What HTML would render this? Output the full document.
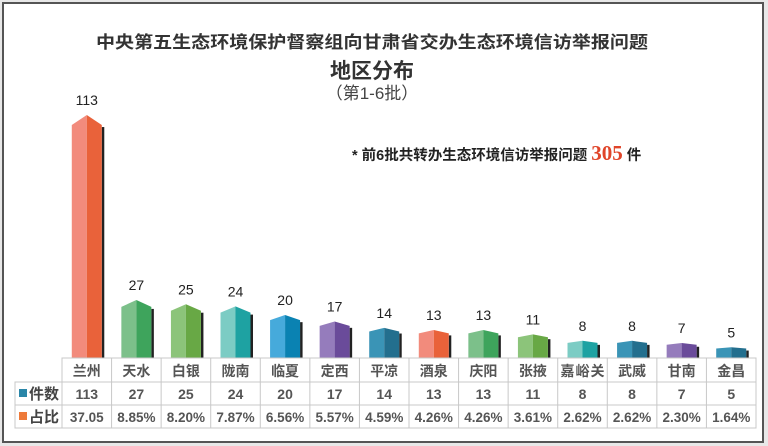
<!DOCTYPE html>
<html><head><meta charset="utf-8"><style>
html,body{margin:0;padding:0;background:#fff;}
svg{display:block;font-family:"Liberation Sans","Noto Sans CJK SC",sans-serif;}
</style></head><body>
<svg width="768" height="446" viewBox="0 0 768 446">
<rect x="0" y="0" width="768" height="446" fill="#e8e8e8"/>
<rect x="3" y="3" width="760" height="439" fill="#fff" stroke="#555" stroke-width="2"/>
<text x="372" y="48" text-anchor="middle" font-size="17" font-weight="bold" fill="#333" textLength="552" lengthAdjust="spacingAndGlyphs">中央第五生态环境保护督察组向甘肃省交办生态环境信访举报问题</text>
<text x="372" y="78" text-anchor="middle" font-size="21" font-weight="bold" fill="#333">地区分布</text>
<text x="372" y="99" text-anchor="middle" font-size="17" fill="#444">（第1-6批）</text>
<text x="352" y="160" font-size="14.5" font-weight="bold" fill="#222">*  前6批共转办生态环境信访举报问题 <tspan font-family="Liberation Serif,serif" font-size="21" fill="#e0452a">305</tspan> 件</text>
<g id="bars"></g>
<g id="table"></g>
</svg>
<script>
const categories=["兰州","天水","白银","陇南","临夏","定西","平凉","酒泉","庆阳","张掖","嘉峪关","武威","甘南","金昌"];
const counts=[113,27,25,24,20,17,14,13,13,11,8,8,7,5];
const shares=["37.05","8.85%","8.20%","7.87%","6.56%","5.57%","4.59%","4.26%","4.26%","3.61%","2.62%","2.62%","2.30%","1.64%"];
const NS="http://www.w3.org/2000/svg";
const palette=[["#f28b7c","#e9623a"],["#7cc08a","#3ea45c"],["#8cc47a","#68a845"],["#7cccc4","#1ea2a2"],["#46aadb","#0a82b2"],["#957cbc","#6a4b9a"],["#3a94b6","#236f8e"],["#f28b7c","#e9623a"],["#7cc08a","#3ea45c"],["#8cc47a","#68a845"],["#7cccc4","#1ea2a2"],["#3a94b6","#236f8e"],["#957cbc","#6a4b9a"],["#3a94b6","#236f8e"]];
const tx0=62,tx1=756,colW=(tx1-tx0)/categories.length,base=358,scale=2.15;
const yScale=v=>base-v*scale;
function mk(tag,attrs,parent){const e=document.createElementNS(NS,tag);for(const k in attrs)e.setAttribute(k,attrs[k]);parent.appendChild(e);return e;}
const bars=document.getElementById('bars');
counts.forEach((v,i)=>{
  const cx=tx0+colW*i+colW/2, w=30, top=yScale(v), cap=Math.min(10,(base-top)*0.12);
  const g=mk('g',{},bars);
  
  
  const [lc,rc]=palette[i];
  mk('rect',{x:cx+w/2,y:top+cap+2,width:2.5,height:base-top-cap-2,fill:'#222'},g);
  mk('polygon',{points:`${cx-w/2},${top+cap} ${cx},${top} ${cx},${base} ${cx-w/2},${base}`,fill:lc},g);
  mk('polygon',{points:`${cx},${top} ${cx+w/2},${top+cap} ${cx+w/2},${base} ${cx},${base}`,fill:rc},g);
  const t=mk('text',{x:cx,y:top-10,'text-anchor':'middle','font-size':14,fill:'#222'},g);
  
  
  t.textContent=v;
});
const tb=document.getElementById('table');
mk('rect',{x:15,y:382,width:tx1-15,height:46,fill:'#fff',stroke:'#c8c8c8'},tb);
mk('rect',{x:tx0,y:358,width:tx1-tx0,height:70,fill:'none',stroke:'#c8c8c8'},tb);
[382,405].forEach(y=>mk('line',{x1:15,x2:tx1,y1:y,y2:y,stroke:'#c8c8c8'},tb));
for(let i=1;i<categories.length;i++){const x=tx0+colW*i;mk('line',{x1:x,x2:x,y1:358,y2:428,stroke:'#c8c8c8'},tb);}
mk('rect',{x:19,y:389,width:8,height:8,fill:'#2a86a8'},tb);
mk('rect',{x:19,y:412,width:8,height:8,fill:'#ee7a3a'},tb);
const l1=mk('text',{x:29,y:399,'font-size':15,'font-weight':'bold',fill:'#444'},tb);l1.textContent='件数';


const l2=mk('text',{x:29,y:422,'font-size':15,'font-weight':'bold',fill:'#444'},tb);l2.textContent='占比';


categories.forEach((c,i)=>{
  const cx=tx0+colW*i+colW/2;
  const a=mk('text',{x:cx,y:376,'text-anchor':'middle','font-size':14,'font-weight':'bold',fill:'#555'},tb);a.textContent=c;
  
  
  if(c.length>2)a.setAttribute('textLength','44');
  const b=mk('text',{x:cx,y:399,'text-anchor':'middle','font-size':14,'font-weight':'bold',fill:'#555'},tb);b.textContent=counts[i];
  
  
  const d=mk('text',{x:cx,y:422,'text-anchor':'middle','font-size':13.5,'font-weight':'bold',fill:'#555'},tb);d.textContent=shares[i];
  
  
});
</script>
</body></html>
